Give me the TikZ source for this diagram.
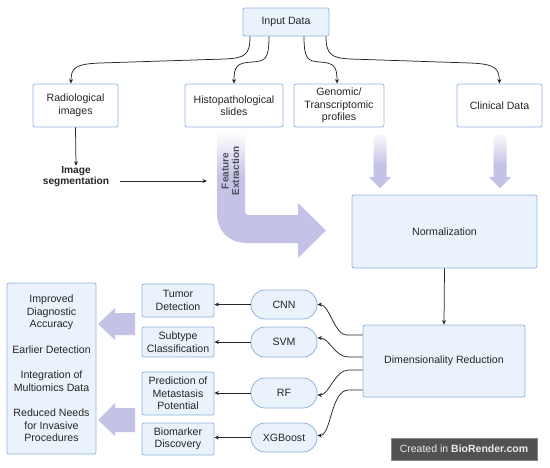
\documentclass[tikz,border=0pt]{standalone}
\usepackage{fontspec}
\setmainfont{Liberation Sans}
\usetikzlibrary{arrows.meta,calc}
\definecolor{bord}{RGB}{145,180,226}
\definecolor{lfill}{RGB}{234,242,252}
\definecolor{lav}{RGB}{196,194,230}
\definecolor{ink}{RGB}{38,38,38}
\definecolor{fetext}{RGB}{80,80,92}
\definecolor{badgebg}{RGB}{82,82,82}
\definecolor{badgetx}{RGB}{235,235,235}
\pgfdeclareverticalshading{fadebig}{100bp}{color(0bp)=(lav); color(57bp)=(lav); color(75bp)=(white); color(100bp)=(white)}
\pgfdeclareverticalshading{fadesmall}{100bp}{color(0bp)=(lav); color(47bp)=(lav); color(76bp)=(white!92!lav); color(100bp)=(white)}
\begin{document}
\begin{tikzpicture}[x=1pt,y=-1pt,
  font=\fontsize{10.6}{12.5}\selectfont,
  box/.style={draw=bord, line width=0.8pt, rounded corners=2pt, fill=lfill, text=ink, align=center, inner sep=1pt},
  wbox/.style={box, fill=white},
  pill/.style={box, rounded corners=14pt},
  conn/.style={draw=ink, line width=0.75pt, -{Stealth[length=4.5pt,width=4pt]}},
  lavarrow/.style={fill=lav, draw=none}
]
\useasboundingbox (0,0) rectangle (550,467);

% ---- top row
\node[box, minimum width=86pt, minimum height=28pt] (inp) at (286,22) {Input Data};
\node[wbox, minimum width=85pt, minimum height=43pt] (rad) at (75.5,105.5) {Radiological\\images};
\node[wbox, minimum width=98pt, minimum height=43pt] (his) at (234,105.5) {Histopathological\\slides};
\node[wbox, minimum width=90pt, minimum height=43pt] (gen) at (339,105.5) {Genomic/\\Transcriptomic\\profiles};
\node[wbox, minimum width=85pt, minimum height=43pt] (cli) at (499.5,105.5) {Clinical Data};

% ---- input connectors
\draw[conn] ([xshift=-36pt]inp.south) .. controls (250,55) and (245,58) .. (225,59) -- (100,63) .. controls (75,64) and (71,68) .. ([xshift=-4.5pt]rad.north);
\draw[conn] ([xshift=-17pt]inp.south) .. controls (269,60) and (265,61) .. (252,62) .. controls (237,63) and (234,66) .. (his.north);
\draw[conn] ([xshift=18pt]inp.south) .. controls (304,60) and (308,61) .. (320,62) .. controls (334,63) and (337,66) .. ([xshift=-2pt]gen.north);
\draw[conn] ([xshift=40pt]inp.south) .. controls (326,55) and (332,58) .. (350,59) -- (470,63) .. controls (495,64) and (499,68) .. (cli.north);

% ---- image segmentation
\node[font=\fontsize{10.2}{11}\selectfont\bfseries, text=ink, align=center, inner sep=1pt] (seg) at (76,177) {Image\\segmentation};
\draw[conn] (rad.south) -- (seg.north);
\coordinate (feL) at (207,181);

% ---- feature extraction arrow
\shade[shading=fadebig] (217,132) -- (217,213) .. controls (217,231) and (229,243) .. (247,243) -- (298,243) -- (298,258) -- (326,230.5) -- (298,203) -- (298,215) -- (249,215) .. controls (246.5,215) and (245,213.5) .. (245,211) -- (245,132) -- cycle;
\node[rotate=90, font=\fontsize{10}{10.5}\selectfont\bfseries, text=fetext, align=center] (fe) at (230.5,171) {Feature\\Extraction};
\draw[conn] ($(seg.east |- feL)+(10,0)$) -- (feL);

% ---- gradient arrows
\shade[shading=fadesmall] (373.5,135) -- (386.5,135) -- (386.5,177) -- (391,177) -- (380,188) -- (369,177) -- (373.5,177) -- cycle;
\shade[shading=fadesmall] (493.5,135) -- (506.5,135) -- (506.5,177) -- (511,177) -- (500,188) -- (489,177) -- (493.5,177) -- cycle;

% ---- normalization / dimensionality reduction
\node[box, minimum width=185pt, minimum height=73pt] (norm) at (444.5,231.5) {Normalization};
\node[box, minimum width=162pt, minimum height=72pt] (dim) at (444,361) {Dimensionality Reduction};
\draw[conn] (norm.south) -- (dim.north);

% ---- models
\node[pill, minimum width=66pt, minimum height=29pt] (cnn) at (284,304.5) {CNN};
\node[pill, minimum width=66pt, minimum height=30pt] (svm) at (284,342) {SVM};
\node[pill, minimum width=66pt, minimum height=30pt] (rf) at (284,393) {RF};
\node[pill, minimum width=66pt, minimum height=29pt] (xgb) at (284,437.5) {XGBoost};

\draw[conn] ([yshift=26pt]dim.west) -- ++(-16,0) .. controls +(-12,0) and +(12,0) .. (cnn.east);
\draw[conn] ([yshift=4pt]dim.west) -- ++(-14,0) .. controls +(-14,0) and +(12,0) .. ([yshift=4pt]svm.east);
\draw[conn] ([yshift=-9pt]dim.west) -- ++(-14,0) .. controls +(-14,0) and +(12,0) .. ([yshift=-2pt]rf.east);
\draw[conn] ([yshift=-29pt]dim.west) -- ++(-14,0) .. controls +(-18,0) and +(14,0) .. ([yshift=2pt]xgb.east);

% ---- tasks
\node[box, minimum width=72pt, minimum height=33pt] (tum) at (178,300.5) {Tumor\\Detection};
\node[box, minimum width=72pt, minimum height=30pt] (sub) at (178,342) {Subtype\\Classification};
\node[box, minimum width=72pt, minimum height=43pt] (pred) at (178,393.5) {Prediction of\\Metastasis\\Potential};
\node[box, minimum width=72pt, minimum height=32pt] (bio) at (178,439) {Biomarker\\Discovery};

\draw[conn] (cnn.west) -- (cnn.west -| tum.east);
\draw[conn] (svm.west) -- (svm.west -| sub.east);
\draw[conn] (rf.west) -- (rf.west -| pred.east);
\draw[conn] (xgb.west) -- (xgb.west -| bio.east);

% ---- results
\node[box, minimum width=89pt, minimum height=171pt] (res) at (51.5,368.5) {Improved\\Diagnostic\\Accuracy\\[13pt]Earlier Detection\\[13pt]Integration of\\Multiomics Data\\[13pt]Reduced Needs\\for Invasive\\Procedures};

\fill[lavarrow] (135,313) -- (115,313) -- (115,308) -- (98,324) -- (115,340) -- (115,335) -- (135,335) -- cycle;
\fill[lavarrow] (135,408) -- (115,408) -- (115,403) -- (98,420) -- (115,436) -- (115,432) -- (135,432) -- cycle;

% ---- badge
\node[fill=badgebg, draw=badgebg!70!white, line width=0.6pt, minimum width=146pt, minimum height=22pt, text=badgetx, font=\fontsize{10.5}{12}\selectfont, inner sep=1pt] (badge) at (464,449) {Created in \textbf{BioRender.com}};
\end{tikzpicture}
\end{document}
